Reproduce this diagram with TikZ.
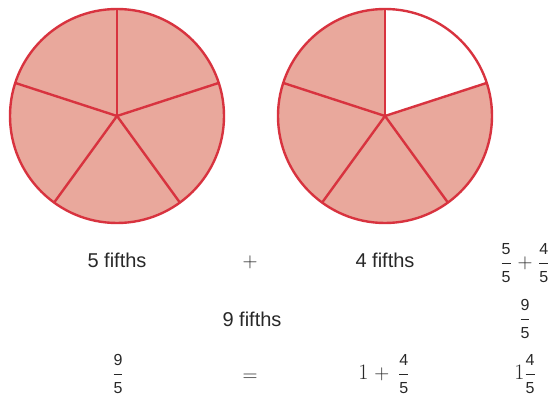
\documentclass[tikz,border=0pt]{standalone}
\usepackage{amsmath}
\usepackage{fontspec}
\setmainfont{Liberation Sans}
\definecolor{piefill}{RGB}{233,168,156}
\definecolor{pieline}{RGB}{216,51,63}
\definecolor{txt}{RGB}{40,40,40}
\newcommand\fsm{\fontsize{16}{16}\selectfont}
\newcommand\myfr[2]{$\displaystyle\frac{\hbox{\fsm #1}}{\hbox{\fsm #2}}$}
\newcommand\lmone{\hbox{\fontfamily{lmr}\fontsize{22}{24}\selectfont 1}}
\tikzset{
  lbl/.style={font=\fontsize{20}{24}\selectfont, inner sep=0pt, text=txt},
  pieedge/.style={draw=pieline, line width=2.4pt},
}
\begin{document}
\begin{tikzpicture}[x=1pt,y=1pt]
\useasboundingbox (0,0) rectangle (556,398);
\def\R{107}
% pie 1
\coordinate (c1) at (117,282);
\fill[piefill] (c1) circle[radius=\R];
\foreach \a in {90,18,-54,-126,162} \draw[pieedge] (c1) -- ++(\a:\R);
\draw[pieedge] (c1) circle[radius=\R];
% pie 2
\coordinate (c2) at (385,282);
\fill[piefill] (c2) -- ++(90:\R) arc[start angle=90, end angle=378, radius=\R] -- cycle;
\foreach \a in {90,18,-54,-126,162} \draw[pieedge] (c2) -- ++(\a:\R);
\draw[pieedge] (c2) circle[radius=\R];
% row 1
\node[lbl, anchor=base] (t1) at (117,130) {5 fifths};
\node[lbl] (p1) at (250,136) {$+$};
\node[lbl, anchor=base] (t2) at (385,130) {4 fifths};
\node[lbl] (f1) at (525,135) {\myfr{5}{5}$\;+\;$\myfr{4}{5}};
% row 2
\node[lbl, anchor=base] (t3) at (252,71) {9 fifths};
\node[lbl] (f2) at (525,79) {\myfr{9}{5}};
% row 3
\node[lbl] (f3) at (118,24) {\myfr{9}{5}};
\node[lbl] (eq) at (250,20) {$=$};
\node[lbl] (f4) at (384,24) {\lmone$\;+\;$\,\myfr{4}{5}};
\node[lbl] (f5) at (525,24) {\lmone\myfr{4}{5}};
\end{tikzpicture}
\end{document}
